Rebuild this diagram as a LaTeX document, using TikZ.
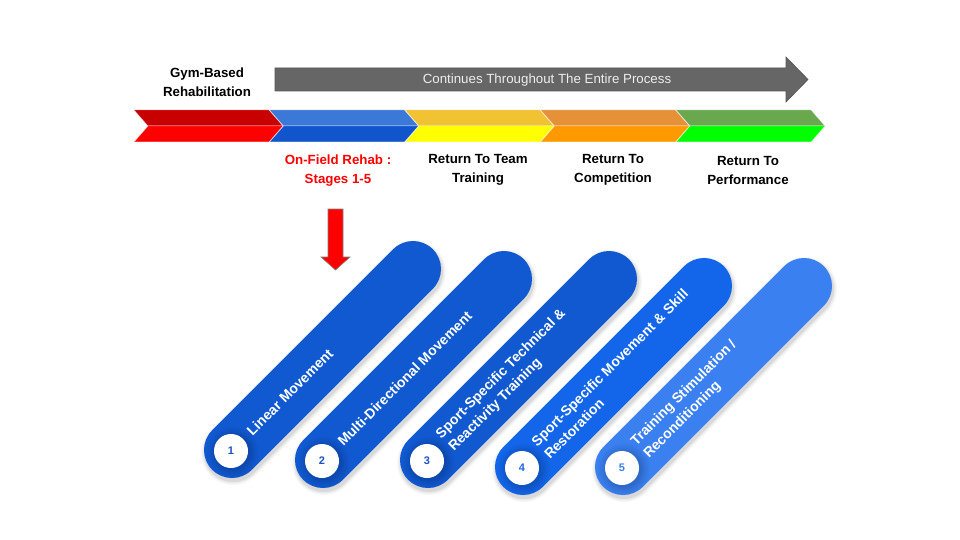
\documentclass[tikz,border=0pt]{standalone}
\usepackage{fontspec}
\setmainfont{Liberation Sans}
\definecolor{redT}{HTML}{C80000}
\definecolor{redB}{HTML}{FF0000}
\definecolor{blueT}{HTML}{3C78D8}
\definecolor{blueB}{HTML}{1155CC}
\definecolor{yelT}{HTML}{F1C232}
\definecolor{yelB}{HTML}{FFFF00}
\definecolor{oraT}{HTML}{E69138}
\definecolor{oraB}{HTML}{FF9900}
\definecolor{grnT}{HTML}{6AA84F}
\definecolor{grnB}{HTML}{00FF00}
\definecolor{arrowgray}{HTML}{666666}
\definecolor{arrowedge}{HTML}{555555}
\definecolor{pillA}{HTML}{1159D1}
\definecolor{pillB}{HTML}{1366EA}
\definecolor{pillC}{HTML}{3A80F0}
\definecolor{numA}{HTML}{1A54C4}
\definecolor{numB}{HTML}{1766E6}
\definecolor{numC}{HTML}{3A80F0}
\begin{document}
\begin{tikzpicture}[x=1pt,y=-1pt,
  toplbl/.style={align=center, font=\bfseries\fontsize{13.3}{19}\selectfont, text=black, inner sep=0pt},
  pilltxt/.style={align=left, font=\bfseries\fontsize{14}{18}\selectfont, text=white, inner sep=0pt, anchor=west, rotate=45},
  numtxt/.style={font=\bfseries\fontsize{11}{12}\selectfont, inner sep=0pt},
  halfseg/.style={fill=#1, draw=white, draw opacity=0.6, line width=0.5pt}
]
\path[use as bounding box] (0,0) rectangle (960,540);
\fill[white] (0,0) rectangle (960,540);

% gray arrow
\fill[arrowgray, draw=arrowedge, line width=0.6pt] (275,68) -- (786,68) -- (786,57) -- (808,79.5) -- (786,102) -- (786,91) -- (275,91) -- cycle;
\node[text=white!93!black, font=\fontsize{13.3}{15}\selectfont, inner sep=0pt] (cont) at (547,80) {Continues Throughout The Entire Process};

% chevron band
\foreach \i/\ct/\cb in {0/redT/redB, 1/blueT/blueB, 2/yelT/yelB, 3/oraT/oraB, 4/grnT/grnB} {
  \pgfmathsetmacro\L{134+135.5*\i}
  \path[halfseg=\ct] (\L,110) -- (\L+135,110) -- (\L+149,126) -- (\L+14,126) -- cycle;
  \path[halfseg=\cb] (\L+14,126) -- (\L+149,126) -- (\L+135,142) -- (\L,142) -- cycle;
}

% labels
\node[toplbl] (gym) at (207,82) {Gym-Based\\Rehabilitation};
\node[toplbl, text=red] (onfield) at (338,171) {On-Field Rehab :\\Stages 1-5};
\node[toplbl] (rtt) at (478,170) {Return To Team\\Training};
\node[toplbl] (rtc) at (613,170) {Return To\\Competition};
\node[toplbl] (rtp) at (748,170) {Return To\\Performance};

% red arrow
\fill[red, draw=gray, line width=0.6pt] (328,209) -- (343,209) -- (343,257) -- (350,257) -- (335.5,270) -- (321,257) -- (328,257) -- cycle;

% pills
\foreach \n/\x/\y/\col/\ncol/\txt in {
  1/232/450/pillA/numA/{Linear Movement},
  2/323/460/pillA/numA/{Multi-Directional Movement},
  3/428/460/pillA/numA/{Sport-Specific Technical \&\\Reactivity Training},
  4/523/467/pillB/numB/{Sport-Specific Movement \& Skill\\Restoration},
  5/623/467/pillC/numC/{Training Stimulation /\\Reconditioning}} {
  % soft shadow
  \foreach \w/\o in {64/0.03, 61/0.05, 58/0.07} {
    \draw[black, opacity=\o, line width=\w pt, line cap=round] (\x+1,\y+3) -- (\x+182,\y-178);
  }
  \draw[\col, line width=56pt, line cap=round] (\x,\y) -- (\x+181,\y-181);
  % circle shadow
  \foreach \r/\o in {26/0.025, 24/0.03, 22/0.035, 20/0.04, 18/0.045} {
    \fill[black, opacity=\o] (\x+1,\y+2.5) circle (\r);
  }
  \node[circle, fill=white, minimum size=34pt, inner sep=0pt, text=\ncol, numtxt] (n\n) at (\x-1,\y+1) {\n};
  \node[pilltxt] (t\n) at (\x+17,\y-17) {\txt};
}
\end{tikzpicture}
\end{document}
